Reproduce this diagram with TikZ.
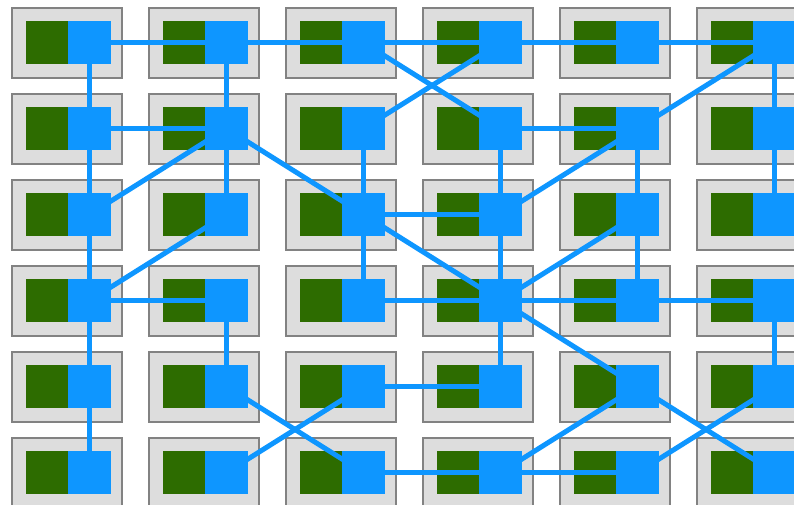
\documentclass[tikz,border=0pt]{standalone}
\usepackage{tikz}
\usepackage{xcolor}
\usetikzlibrary{positioning}
\definecolor{swblue}{RGB}{14,150,255}
\definecolor{swgreen}{RGB}{45,108,0}
\definecolor{swtile}{RGB}{221,221,221}
\definecolor{swedge}{RGB}{130,130,130}
\pgfdeclarelayer{back}
\pgfdeclarelayer{mid}
\pgfsetlayers{back,mid,main}
\tikzset{
  tile/.style={draw=swedge, line width=1.5pt, fill=swtile, minimum width=110pt, minimum height=70pt, inner sep=0pt},
  core/.style={fill=swgreen, minimum width=42pt, minimum height=43pt, inner sep=0pt},
  cell/.style={fill=swblue, minimum width=43pt, minimum height=43pt, inner sep=0pt},
  link/.style={swblue, line width=5pt}
}

\begin{document}
\begin{tikzpicture}[x=1pt, y=-1pt, node distance=0pt]
    \useasboundingbox (0,0) rectangle (794,504);
    \clip (0,0) rectangle (794,504);
    % tiles: grey board, green core, blue switch
    \foreach \r in {1,...,6} {
      \foreach \c in {1,...,6} {
        \node[cell] (b\r\c) at ({89.5+137*(\c-1)}, {42.5+86*(\r-1)}) {};
        \begin{pgfonlayer}{back}
          \node[tile] (t\r\c) at ({67+137*(\c-1)}, {43+86*(\r-1)}) {};
          \node[core, left=of b\r\c] (g\r\c) {};
        \end{pgfonlayer}
      }
    }
    % links between switches
    \begin{pgfonlayer}{mid}
      \foreach \a/\b in {11/12, 12/13, 13/14, 14/15, 15/16,
                         11/21, 12/22, 13/24, 14/23, 16/25, 16/26,
                         21/22, 21/31, 22/31, 22/32, 22/33, 23/33,
                         24/25, 24/34, 25/34, 25/35, 26/36,
                         31/41, 32/41, 33/34, 33/43, 33/44, 34/44, 35/44, 35/45,
                         41/42, 41/51, 42/52, 43/44, 44/45, 45/46,
                         44/54, 44/55, 46/56,
                         51/61, 52/63, 53/62, 53/54, 55/64, 55/66, 56/65,
                         63/64, 64/65}
        \draw[link] (b\a.center) -- (b\b.center);
    \end{pgfonlayer}
  \end{tikzpicture}
\end{document}
